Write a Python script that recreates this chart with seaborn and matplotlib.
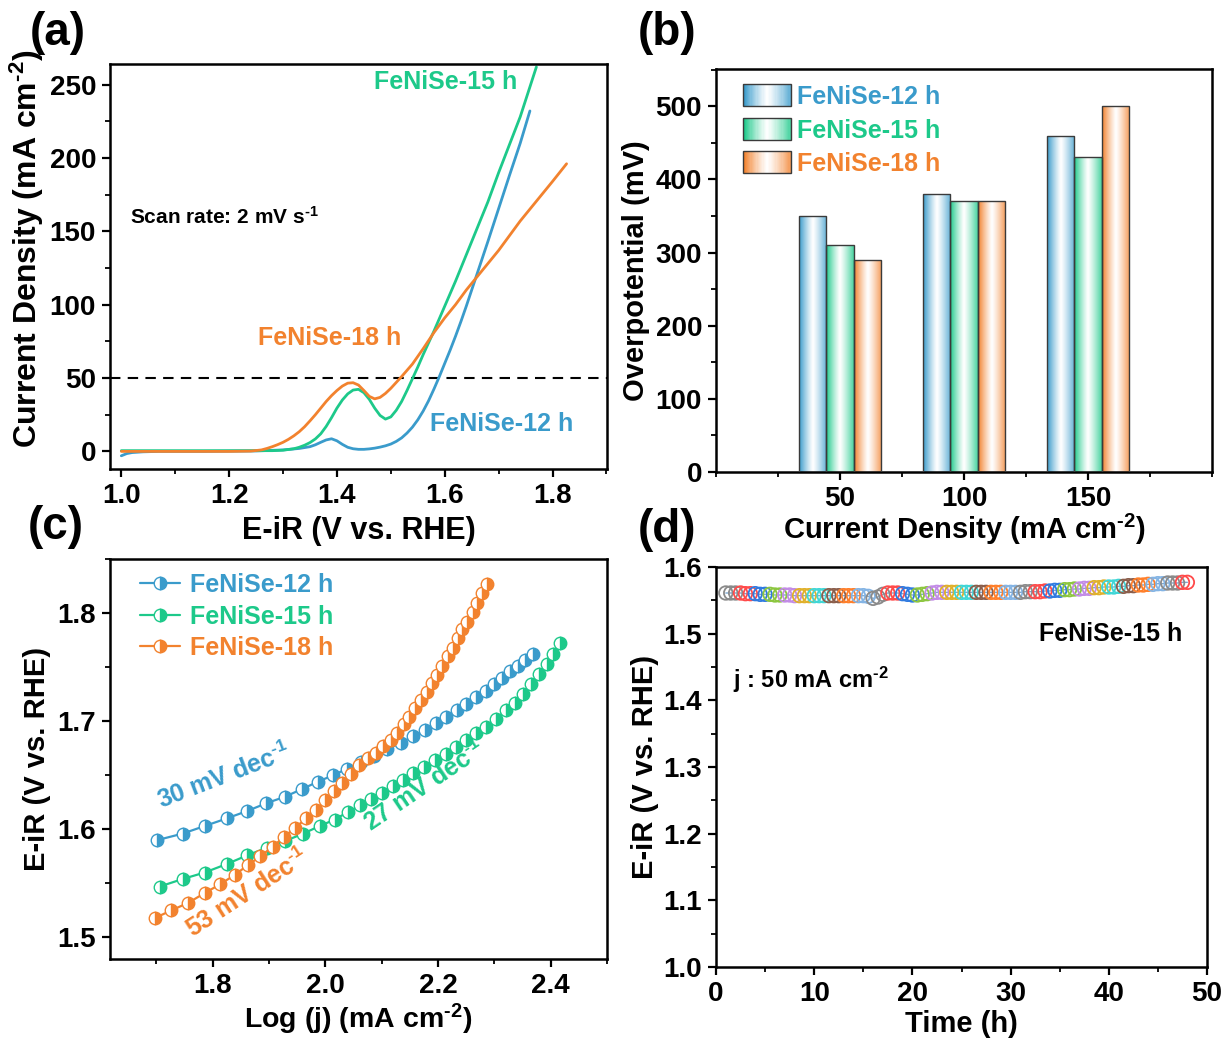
import numpy as np
import matplotlib
matplotlib.use("Agg")
import matplotlib.pyplot as plt
import matplotlib.colors as mcolors
import seaborn as sns
from matplotlib.patches import Rectangle
from matplotlib.lines import Line2D
from matplotlib.legend_handler import HandlerBase
from matplotlib.ticker import MultipleLocator

# ---------------- data ----------------
SAMPLES = ["FeNiSe-12 h", "FeNiSe-15 h", "FeNiSe-18 h"]
COLORS = ["#3A9BCB", "#1DC98A", "#F2822E"]

# (a) LSV curves
lsv12_x = [1.00, 1.01, 1.02, 1.04, 1.07, 1.15, 1.25, 1.30, 1.33, 1.35, 1.36, 1.37, 1.38, 1.39, 1.40,
           1.41, 1.42, 1.43, 1.44, 1.45, 1.46, 1.47, 1.48, 1.49, 1.50, 1.51, 1.52, 1.53, 1.54, 1.55,
           1.56, 1.57, 1.58, 1.59, 1.60, 1.61, 1.62, 1.63, 1.64, 1.66, 1.68, 1.70, 1.72, 1.74, 1.758]
lsv12_y = [-3, -1.5, -0.8, -0.3, 0, 0, 0.3, 1.0, 2.0, 3.2, 4.5, 6.2, 7.8, 8.6, 7.2,
           4.8, 2.8, 1.8, 1.4, 1.4, 1.7, 2.2, 2.9, 3.8, 5.0, 6.8, 9.2, 12.5, 16.5, 21.5,
           27.5, 34.5, 42.5, 51, 60, 69, 78.5, 88.5, 99, 121, 143, 165.5, 188, 210, 232]
lsv15_x = [1.00, 1.20, 1.28, 1.30, 1.32, 1.33, 1.34, 1.35, 1.36, 1.37, 1.38, 1.39, 1.40, 1.41, 1.42,
           1.43, 1.44, 1.45, 1.46, 1.47, 1.48, 1.49, 1.50, 1.51, 1.52, 1.53, 1.54, 1.55, 1.56, 1.57,
           1.58, 1.60, 1.62, 1.64, 1.66, 1.68, 1.70, 1.72, 1.74, 1.77]
lsv15_y = [0.5, 0.5, 0.5, 0.8, 1.8, 2.8, 4.2, 6.0, 8.5, 12, 17, 23, 29.5, 35, 39.2,
           41.8, 42.3, 40, 35.5, 29.5, 24.5, 22, 23.5, 28, 34, 41.5, 49.5, 57.5, 66, 74,
           82, 99, 116, 134, 152, 170, 190, 209, 228, 262]
lsv18_x = [1.00, 1.20, 1.24, 1.26, 1.27, 1.28, 1.29, 1.30, 1.31, 1.32, 1.33, 1.34, 1.35, 1.36, 1.37,
           1.38, 1.39, 1.40, 1.41, 1.42, 1.43, 1.44, 1.45, 1.46, 1.47, 1.48, 1.49, 1.50, 1.51, 1.52,
           1.54, 1.56, 1.58, 1.60, 1.62, 1.64, 1.66, 1.70, 1.74, 1.76, 1.78, 1.80, 1.826]
lsv18_y = [0, 0, 0.2, 1, 2, 3.2, 4.6, 6.2, 8.2, 10.6, 13.4, 16.8, 20.8, 25, 29.5,
           34, 38, 41.5, 44.5, 46.5, 46.8, 45.2, 41.5, 37.5, 35.8, 36.8, 39.5, 43, 47, 51,
           59.5, 70, 81, 91, 100, 110, 119, 137, 157, 166, 175, 184, 196]

# (b) overpotential bars
current_density = [50, 100, 150]
eta12 = [350, 380, 460]
eta15 = [310, 370, 430]
eta18 = [290, 370, 500]

# (c) Tafel data
taf12_x = [1.702, 1.747, 1.786, 1.825, 1.862, 1.895, 1.928, 1.958, 1.987, 2.014, 2.039, 2.063, 2.087,
           2.110, 2.134, 2.156, 2.177, 2.197, 2.215, 2.233, 2.250, 2.268, 2.285, 2.300, 2.314, 2.328,
           2.342, 2.355, 2.368]
taf12_y = [1.590, 1.596, 1.603, 1.610, 1.617, 1.624, 1.630, 1.637, 1.644, 1.650, 1.656, 1.662, 1.668,
           1.674, 1.680, 1.686, 1.692, 1.698, 1.704, 1.710, 1.716, 1.722, 1.728, 1.734, 1.740, 1.746,
           1.751, 1.757, 1.762]
taf15_x = [1.706, 1.747, 1.786, 1.826, 1.862, 1.897, 1.928, 1.961, 1.990, 2.017, 2.040, 2.062, 2.082,
           2.101, 2.120, 2.138, 2.156, 2.175, 2.195, 2.214, 2.232, 2.250, 2.268, 2.286, 2.303, 2.320,
           2.336, 2.351, 2.366, 2.380, 2.393, 2.405, 2.416]
taf15_y = [1.547, 1.554, 1.560, 1.568, 1.576, 1.583, 1.589, 1.596, 1.603, 1.609, 1.616, 1.622, 1.628,
           1.634, 1.640, 1.646, 1.652, 1.658, 1.664, 1.670, 1.676, 1.683, 1.689, 1.695, 1.702, 1.710,
           1.717, 1.725, 1.734, 1.744, 1.753, 1.762, 1.772]
taf18_x = [1.698, 1.727, 1.757, 1.786, 1.813, 1.840, 1.863, 1.885, 1.907, 1.927, 1.946, 1.966, 1.984,
           2.000, 2.016, 2.030, 2.045, 2.059, 2.075, 2.090, 2.103, 2.116, 2.127, 2.139, 2.149, 2.160,
           2.170, 2.180, 2.189, 2.199, 2.207, 2.217, 2.226, 2.235, 2.242, 2.252, 2.262, 2.269, 2.278,
           2.287]
taf18_y = [1.518, 1.525, 1.532, 1.541, 1.549, 1.558, 1.567, 1.575, 1.584, 1.593, 1.601, 1.610, 1.618,
           1.627, 1.635, 1.643, 1.651, 1.659, 1.666, 1.671, 1.677, 1.683, 1.689, 1.697, 1.704, 1.712,
           1.720, 1.727, 1.735, 1.743, 1.751, 1.760, 1.768, 1.777, 1.785, 1.792, 1.801, 1.809, 1.819,
           1.827]
tafel_labels = ["30 mV dec$^{\u20101}$", "27 mV dec$^{\u20101}$", "53 mV dec$^{\u20101}$"]

# (d) stability test
time_h = [1.0, 1.5, 2.0, 2.5, 3.0, 3.5, 4.0, 4.5, 5.0, 5.5, 6.0, 6.5, 7.0, 7.5, 8.0, 8.5, 9.0, 9.5,
          10.0, 10.5, 11.0, 11.5, 12.0, 12.5, 13.0, 13.5, 14.0, 14.5, 15.0, 15.5, 16.0, 16.5, 17.0,
          17.5, 18.0, 18.5, 19.0, 19.5, 20.0, 20.5, 21.0, 21.5, 22.0, 22.5, 23.0, 23.5, 24.0, 24.5,
          25.0, 25.5, 26.0, 26.5, 27.0, 27.5, 28.0, 28.5, 29.0, 29.5, 30.0, 30.5, 31.0, 31.5, 32.0,
          32.5, 33.0, 33.5, 34.0, 34.5, 35.0, 35.5, 36.0, 36.5, 37.0, 37.5, 38.0, 38.5, 39.0, 39.5,
          40.0, 40.5, 41.0, 41.5, 42.0, 42.5, 43.0, 43.5, 44.0, 44.5, 45.0, 45.5, 46.0, 46.5, 47.0,
          47.5, 48.0]
voltage = [1.561, 1.561, 1.561, 1.561, 1.560, 1.560, 1.560, 1.559, 1.559, 1.559, 1.558, 1.558, 1.558,
           1.558, 1.557, 1.557, 1.557, 1.557, 1.557, 1.557, 1.557, 1.557, 1.557, 1.557, 1.557, 1.557,
           1.557, 1.557, 1.557, 1.556, 1.553, 1.555, 1.559, 1.561, 1.561, 1.561, 1.560, 1.559, 1.558,
           1.558, 1.559, 1.560, 1.561, 1.562, 1.562, 1.562, 1.562, 1.562, 1.562, 1.562, 1.562, 1.562,
           1.562, 1.562, 1.562, 1.562, 1.562, 1.562, 1.562, 1.562, 1.562, 1.563, 1.563, 1.563, 1.563,
           1.564, 1.564, 1.565, 1.565, 1.566, 1.566, 1.567, 1.567, 1.568, 1.568, 1.569, 1.569, 1.570,
           1.570, 1.570, 1.571, 1.571, 1.572, 1.572, 1.573, 1.573, 1.574, 1.574, 1.575, 1.575, 1.576,
           1.576, 1.576, 1.577, 1.577]
SEG_COLORS = ["#8a8a8a", "#ff4a4a", "#2f7ae0", "#8cc63f", "#c28be6", "#e0b02a", "#3fd6d6",
              "#8b5e4b", "#ff7f2a", "#84b4e4"]

UNIT_J = "(mA cm$^{\u20102}$)"

# ---------------- style ----------------
sns.set_theme(style="ticks", rc={
    "axes.edgecolor": "black", "text.color": "black", "axes.labelcolor": "black",
    "xtick.color": "black", "ytick.color": "black"})
plt.rcParams["font.family"] = ["Liberation Sans", "DejaVu Sans"]
plt.rcParams["font.weight"] = "bold"
plt.rcParams["axes.labelweight"] = "bold"
plt.rcParams["mathtext.fontset"] = "custom"
plt.rcParams["mathtext.rm"] = "Liberation Sans:bold"
plt.rcParams["mathtext.bf"] = "Liberation Sans:bold"
plt.rcParams["mathtext.it"] = "Liberation Sans:bold"
plt.rcParams["mathtext.default"] = "rm"

TICK_FS = 20

fig = plt.figure(figsize=(12.25, 10.38), dpi=100)
W, H = 1225.0, 1038.0


def box(l, r, t, b):
    return [l / W, 1 - b / H, (r - l) / W, (b - t) / H]


def style_axes(ax):
    for s in ax.spines.values():
        s.set_linewidth(1.8)
        s.set_color("black")
    ax.tick_params(which="major", direction="out", length=6, width=1.6, labelsize=TICK_FS,
                   top=False, right=False, pad=4)
    ax.tick_params(which="minor", direction="out", length=3.5, width=1.3, top=False, right=False)
    for lab in ax.get_xticklabels() + ax.get_yticklabels():
        lab.set_fontweight("bold")


def grad_rgb(c, n=64):
    rgb = np.array(mcolors.to_rgb(c))
    u = np.linspace(0, 1, n)
    w = np.where(u < 0.5, (1 - u / 0.5) ** 1.2, 0.8 * ((u - 0.5) / 0.5) ** 1.2)
    return (1 - w)[:, None] * np.ones(3) + w[:, None] * rgb


# ---------------- (a) ----------------
axA = fig.add_axes(box(110, 607, 64, 469))
for xs, ys, c in zip([lsv12_x, lsv15_x, lsv18_x], [lsv12_y, lsv15_y, lsv18_y], COLORS):
    sns.lineplot(x=xs, y=ys, color=c, lw=2.0, ax=axA, sort=False, estimator=None)
axA.axhline(50, color="black", lw=1.5, ls=(0, (5, 3.5)), zorder=1)
axA.set_xlim(0.979, 1.901)
axA.set_ylim(-12, 264)
axA.set_xticks([1.0, 1.2, 1.4, 1.6, 1.8])
axA.set_xticklabels(["1.0", "1.2", "1.4", "1.6", "1.8"])
axA.xaxis.set_minor_locator(MultipleLocator(0.1))
axA.set_yticks([0, 50, 100, 150, 200, 250])
axA.yaxis.set_minor_locator(MultipleLocator(25))
axA.set_xlabel("E-iR (V vs. RHE)", fontsize=22, labelpad=5)
axA.set_ylabel("Current Density " + UNIT_J, fontsize=23)
axA.yaxis.set_label_coords(-0.128, 0.545)
style_axes(axA)
axA.text(1.601, 252, SAMPLES[1], color=COLORS[1], fontsize=18, ha="center", va="center")
axA.text(1.387, 77, SAMPLES[2], color=COLORS[2], fontsize=18, ha="center", va="center")
axA.text(1.706, 19, SAMPLES[0], color=COLORS[0], fontsize=18, ha="center", va="center")
axA.text(1.016, 160, "Scan rate: 2 mV s$^{\u20101}$", color="black", fontsize=15, ha="left", va="center")

# ---------------- (b) ----------------
axB = fig.add_axes(box(716, 1212, 69, 472))
bw = 11
for k, (vals, c) in enumerate(zip([eta12, eta15, eta18], COLORS)):
    xs = np.array(current_density, dtype=float) + (k - 1) * bw
    bars = axB.bar(xs, vals, width=bw, facecolor="none", edgecolor="#3a3a3a", linewidth=1.0, zorder=3)
    g = grad_rgb(c)[None, :, :]
    for b in bars:
        x0, y0 = b.get_x(), b.get_y()
        im = axB.imshow(g, extent=(x0, x0 + b.get_width(), y0, y0 + b.get_height()),
                        aspect="auto", interpolation="bilinear", origin="lower", zorder=2)
        im.set_clip_path(b)
axB.set_aspect("auto")
axB.set_xlim(0, 200)
axB.set_ylim(0, 551)
axB.set_xticks(current_density)
axB.set_xticklabels([str(v) for v in current_density])
axB.xaxis.set_minor_locator(MultipleLocator(25))
axB.set_yticks([0, 100, 200, 300, 400, 500])
axB.yaxis.set_minor_locator(MultipleLocator(50))
axB.set_xlabel("Current Density " + UNIT_J, fontsize=21, labelpad=0)
axB.set_ylabel("Overpotential (mV)", fontsize=21, labelpad=4)
style_axes(axB)


class GradHandler(HandlerBase):
    def create_artists(self, legend, orig_handle, xdescent, ydescent, width, height, fontsize, trans):
        cols = grad_rgb(orig_handle.get_facecolor(), n=40)
        n = len(cols)
        arts = []
        x0, y0 = -xdescent, -ydescent - 0.12 * height
        hh = height * 1.25
        for i, col in enumerate(cols):
            r = Rectangle((x0 + i * width / n, y0), width / n * 1.05, hh, facecolor=col,
                          edgecolor="none", transform=trans)
            arts.append(r)
        arts.append(Rectangle((x0, y0), width, hh, facecolor="none", edgecolor="#3a3a3a",
                              linewidth=1.0, transform=trans))
        return arts


hB = [Rectangle((0, 0), 1, 1, facecolor=c) for c in COLORS]
legB = axB.legend(hB, SAMPLES, handler_map={Rectangle: GradHandler()}, loc="upper left",
                  bbox_to_anchor=(0.035, 0.985), frameon=False, fontsize=18, handlelength=1.9,
                  handleheight=0.7, handletextpad=0.25, labelspacing=0.38, borderaxespad=0)
for t, c in zip(legB.get_texts(), COLORS):
    t.set_color(c)
    t.set_fontweight("bold")

# ---------------- (c) ----------------
axC = fig.add_axes(box(110, 607, 559, 959))
for xs, ys, c in zip([taf12_x, taf15_x, taf18_x], [taf12_y, taf15_y, taf18_y], COLORS):
    sns.lineplot(x=xs, y=ys, color=c, lw=1.6, ax=axC, sort=False, estimator=None,
                 marker="o", markersize=9, fillstyle="right", markerfacecoloralt="white",
                 markeredgecolor=c, markeredgewidth=1.0)
axC.set_xlim(1.618, 2.5)
axC.set_ylim(1.48, 1.85)
axC.set_xticks([1.8, 2.0, 2.2, 2.4])
axC.set_xticklabels(["1.8", "2.0", "2.2", "2.4"])
axC.xaxis.set_minor_locator(MultipleLocator(0.1))
axC.set_yticks([1.5, 1.6, 1.7, 1.8])
axC.set_yticklabels(["1.5", "1.6", "1.7", "1.8"])
axC.yaxis.set_minor_locator(MultipleLocator(0.05))
axC.set_xlabel("Log (j) " + UNIT_J, fontsize=20.5, labelpad=2)
axC.set_ylabel("E-iR (V vs. RHE)", fontsize=21, labelpad=5)
style_axes(axC)
hC = [Line2D([], [], color=c, lw=1.6, marker="o", markersize=9, fillstyle="right",
             markerfacecoloralt="white", markeredgecolor=c, markeredgewidth=1.0) for c in COLORS]
legC = axC.legend(hC, SAMPLES, loc="upper left", bbox_to_anchor=(0.04, 0.99), frameon=False,
                  fontsize=18, handlelength=1.6, handletextpad=0.4, labelspacing=0.3, borderaxespad=0)
for t, c in zip(legC.get_texts(), COLORS):
    t.set_color(c)
    t.set_fontweight("bold")
axC.text(1.821, 1.649, tafel_labels[0], color=COLORS[0], fontsize=18, rotation=21,
         ha="center", va="center", rotation_mode="anchor")
axC.text(2.176, 1.640, tafel_labels[1], color=COLORS[1], fontsize=18, rotation=34,
         ha="center", va="center", rotation_mode="anchor")
axC.text(1.862, 1.541, tafel_labels[2], color=COLORS[2], fontsize=18, rotation=33,
         ha="center", va="center", rotation_mode="anchor")

# ---------------- (d) ----------------
axD = fig.add_axes(box(716, 1207, 567, 967))
sns.lineplot(x=time_h, y=voltage, color="#7fa8d0", lw=1.0, ax=axD, sort=False, estimator=None)
pt_colors = [SEG_COLORS[(i // 3) % len(SEG_COLORS)] for i in range(len(time_h))]
axD.scatter(time_h, voltage, s=95, facecolors="none", edgecolors=pt_colors, linewidths=1.3, zorder=3)
axD.set_xlim(0, 50)
axD.set_ylim(1.0, 1.6)
axD.set_xticks([0, 10, 20, 30, 40, 50])
axD.xaxis.set_minor_locator(MultipleLocator(5))
axD.set_yticks([1.0, 1.1, 1.2, 1.3, 1.4, 1.5, 1.6])
axD.set_yticklabels(["1.0", "1.1", "1.2", "1.3", "1.4", "1.5", "1.6"])
axD.yaxis.set_minor_locator(MultipleLocator(0.05))
axD.set_xlabel("Time (h)", fontsize=21, labelpad=2)
axD.set_ylabel("E-iR (V vs. RHE)", fontsize=21, labelpad=3)
style_axes(axD)
axD.text(47.5, 1.50, "FeNiSe-15 h", color="black", fontsize=18, ha="right", va="center")
axD.text(1.7, 1.43, "j : 50 mA cm$^{\u20102}$", color="black", fontsize=17, ha="left", va="center")

# ---------------- panel letters ----------------
for lab, (px, py) in zip(["(a)", "(b)", "(c)", "(d)"],
                         [(30, 33), (638, 33), (28, 527), (638, 530)]):
    fig.text(px / W, 1 - py / H, lab, fontsize=33, fontweight="bold", ha="left", va="center")

fig.savefig("out.png", dpi=100)
